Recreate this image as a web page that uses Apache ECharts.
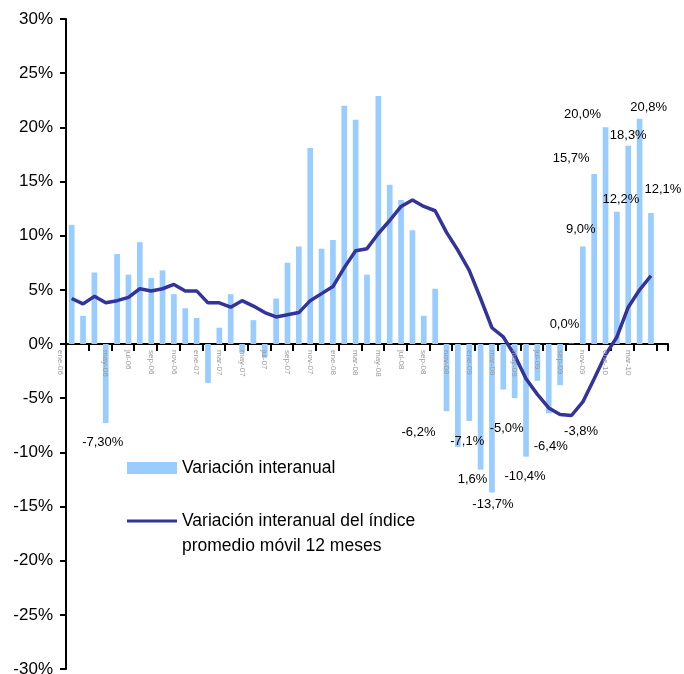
<!DOCTYPE html>
<html>
<head>
<meta charset="utf-8">
<script src="https://cdn.jsdelivr.net/npm/echarts@6/dist/echarts.min.js"></script>
<style>
  html, body { margin: 0; padding: 0; background: #fff; }
  #chart { width: 684px; height: 674px; }
</style>
</head>
<body>
<div id="chart"></div>
<script>
// Monthly categories (the last one has no data yet)
const months = [
  'ene-06','feb-06','mar-06','abr-06','may-06','jun-06','jul-06','ago-06','sep-06','oct-06','nov-06','dic-06',
  'ene-07','feb-07','mar-07','abr-07','may-07','jun-07','jul-07','ago-07','sep-07','oct-07','nov-07','dic-07',
  'ene-08','feb-08','mar-08','abr-08','may-08','jun-08','jul-08','ago-08','sep-08','oct-08','nov-08','dic-08',
  'ene-09','feb-09','mar-09','abr-09','may-09','jun-09','jul-09','ago-09','sep-09','oct-09','nov-09','dic-09',
  'ene-10','feb-10','mar-10','abr-10','may-10'
];

// Year-on-year change, %
const variacion = [
  11.0, 2.6, 6.6, -7.3, 8.3, 6.4, 9.4, 6.1, 6.8, 4.6, 3.3, 2.4,
  -3.6, 1.5, 4.6, -0.8, 2.2, -1.2, 4.2, 7.5, 9.0, 18.1, 8.8, 9.6,
  22.0, 20.7, 6.4, 22.9, 14.7, 13.3, 10.5, 2.6, 5.1, -6.2, -9.5, -7.1,
  -11.6, -13.7, -4.2, -5.0, -10.4, -3.4, -6.4, -3.8, 0.04, 9.0, 15.7, 20.0,
  12.2, 18.3, 20.8, 12.1
];

// Year-on-year change of the 12-month moving average index, %
const promedioMovil = [
  4.2, 3.7, 4.4, 3.8, 4.0, 4.3, 5.1, 4.9, 5.1, 5.5, 4.9, 4.9,
  3.8, 3.8, 3.4, 4.0, 3.5, 2.9, 2.5, 2.7, 2.9, 4.0, 4.65, 5.3,
  7.05, 8.6, 8.8, 10.2, 11.4, 12.7, 13.3, 12.7, 12.3, 10.3, 8.65, 6.8,
  4.2, 1.5, 0.65, -1.05, -3.2, -4.65, -5.9, -6.5, -6.6, -5.35, -3.2, -1.0,
  0.65, 3.4, 5.0, 6.3
];

// Value axis range, %
const yMin = -30, yMax = 30, yStep = 5;

const nameBars = 'Variación interanual';
const nameLine = 'Variación interanual del índice\npromedio móvil 12 meses';

// Bars that carry a value label, with the label's nudge from the bar end
const barLabels = [
  { i: 3,  dx: -3,  dy: 19, digits: 2 },
  { i: 33, dx: -28, dy: 21 },
  { i: 35, dx: -2,  dy: 21 },
  { i: 36, dx: -8,  dy: 10, tail: 2 },
  { i: 37, dx: 1,   dy: 12 },
  { i: 39, dx: -8,  dy: 30 },
  { i: 40, dx: -1,  dy: 20 },
  { i: 42, dx: 2,   dy: 33 },
  { i: 43, dx: 21,  dy: 46 },
  { i: 44, dx: -7,  dy: -19 },
  { i: 45, dx: -2,  dy: -17 },
  { i: 46, dx: -23, dy: -15 },
  { i: 47, dx: -23, dy: -13 },
  { i: 48, dx: 4,   dy: -12 },
  { i: 49, dx: 0,   dy: -10 },
  { i: 50, dx: 9,   dy: -11 },
  { i: 51, dx: 12,  dy: -23 }
];

const FONT = '"Liberation Sans", Arial, sans-serif';
const GRID = { left: 66, right: 16, top: 19, bottom: 5 };

function pct(v, digits) {
  return v.toFixed(digits).replace('.', ',') + '%';
}

const chart = echarts.init(document.getElementById('chart'), null, { renderer: 'canvas' });

// pixel distance from the bottom of the plot up to the 0% line
const plotH = 674 - GRID.top - GRID.bottom;
const zeroRise = plotH * (0 - yMin) / (yMax - yMin);

chart.setOption({
  animation: false,
  backgroundColor: '#ffffff',
  grid: Object.assign({ containLabel: false, outerBoundsMode: 'none' }, GRID),
  legend: [
    {
      left: 127, top: 459, padding: 0,
      itemWidth: 50, itemHeight: 12, itemGap: 0,
      selectedMode: false,
      data: [{ name: nameBars, icon: 'rect' }],
      textStyle: { fontFamily: FONT, fontSize: 17.5, color: '#000' }
    },
    {
      left: 127, top: 483.5, padding: 0,
      itemWidth: 50, itemHeight: 3, itemGap: 0,
      selectedMode: false,
      data: [{ name: nameLine, icon: 'rect', itemStyle: { color: '#333399', borderWidth: 0 } }],
      formatter: name => '\n' + name,
      textStyle: { fontFamily: FONT, fontSize: 17.5, color: '#000', lineHeight: 25 }
    }
  ],
  xAxis: [
    {
      type: 'category',
      data: months,
      boundaryGap: true,
      axisLine: { onZero: true, lineStyle: { color: '#000', width: 2 } },
      axisTick: { show: true, interval: 1, length: 7, lineStyle: { color: '#000', width: 2 } },
      axisLabel: { show: false },
      splitLine: { show: false }
    },
    {
      // month labels hanging under the 0% line
      type: 'category',
      data: months,
      boundaryGap: true,
      position: 'bottom',
      offset: -zeroRise,
      z: 5,
      axisLine: { show: false, onZero: false },
      axisTick: { show: false },
      axisLabel: {
        show: true, interval: 1, rotate: -90, margin: 6,
        showMinLabel: true, hideOverlap: false,
        verticalAlign: 'top', lineHeight: 23,
        fontFamily: FONT, fontSize: 8, color: '#9a9a9a'
      },
      splitLine: { show: false }
    }
  ],
  yAxis: {
    type: 'value',
    min: yMin, max: yMax, interval: yStep,
    axisLine: { show: true, lineStyle: { color: '#000', width: 2 } },
    axisTick: { show: true, inside: false, length: 6, lineStyle: { color: '#000', width: 2 } },
    axisLabel: {
      margin: 13,
      formatter: v => v + '%',
      fontFamily: FONT, fontSize: 17, color: '#000'
    },
    splitLine: { show: false }
  },
  series: [
    {
      name: nameBars,
      type: 'bar',
      xAxisIndex: 0,
      data: variacion,
      barWidth: '50%',
      itemStyle: { color: '#99ccff' },
      markPoint: {
        symbol: 'circle',
        symbolSize: 1,
        silent: true,
        itemStyle: { color: 'rgba(0,0,0,0)' },
        label: {
          show: true, position: 'inside',
          fontFamily: FONT, fontSize: 13, color: '#000'
        },
        data: barLabels.map(l => {
          const v = variacion[l.i];
          let text = pct(v, l.digits || 1);
          if (l.tail) text = text.slice(l.tail);
          return {
            coord: [months[l.i], v],
            value: v,
            label: { offset: [l.dx, l.dy], formatter: text }
          };
        })
      },
      z: 2
    },
    {
      name: nameLine,
      type: 'line',
      xAxisIndex: 0,
      data: promedioMovil,
      symbol: 'none',
      smooth: false,
      lineStyle: { color: '#333399', width: 3.5 },
      itemStyle: { color: '#333399' },
      z: 3
    }
  ]
});
</script>
</body>
</html>
